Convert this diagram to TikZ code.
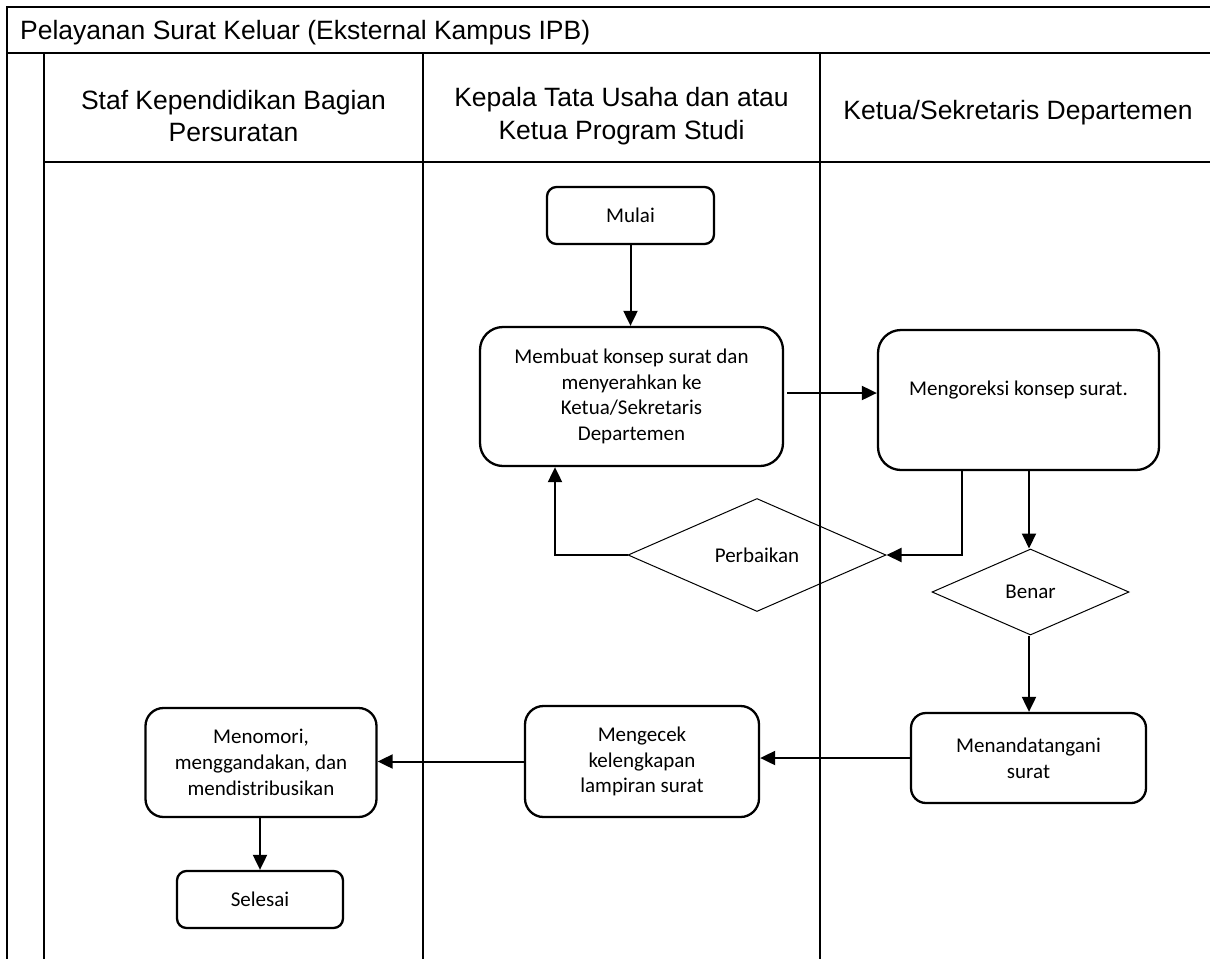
\documentclass[tikz,border=0pt]{standalone}
\usepackage{fontspec}
\setmainfont{Liberation Sans}
\newfontfamily\boxfont{Carlito}
\usetikzlibrary{shapes.geometric,arrows.meta}
\tikzset{
  grid/.style={line width=1.8pt},
  headtext/.style={font=\fontsize{26.5}{32.5}\selectfont, align=center, inner sep=0pt},
  procbox/.style={draw, line width=2.3pt, align=center, inner sep=0pt,
    font=\boxfont\fontsize{21}{25.7}\selectfont},
  decision/.style={draw, diamond, line width=1pt, inner sep=0pt,
    font=\boxfont\fontsize{21}{25.7}\selectfont},
  conn/.style={line width=2pt, -{Triangle[length=15pt,width=14pt]}},
  plain/.style={line width=2pt}
}
\begin{document}
\begin{tikzpicture}[x=1pt,y=-1pt]
\useasboundingbox (0,0) rectangle (1210,959);
% frame and lanes
\draw[grid] (1210,7) -- (7,7) -- (7,959);
\draw[grid] (7,53) -- (1210,53);
\draw[grid] (44,53) -- (44,959);
\draw[grid] (44,162) -- (1210,162);
\draw[grid] (423,53) -- (423,959);
\draw[grid] (820,53) -- (820,959);
% title and headings
\node[headtext, anchor=base west] (title) at (20,39) {Pelayanan Surat Keluar (Eksternal Kampus IPB)};
\node[headtext] (h1) at (233.5,116) {Staf Kependidikan Bagian\\Persuratan};
\node[headtext] (h2) at (621.5,116) {Kepala Tata Usaha dan atau\\Ketua Program Studi};
\node[headtext] (h3) at (1018,113) {Ketua/Sekretaris Departemen};
% process nodes
\node[procbox, rounded corners=9.5pt, minimum width=167pt, minimum height=57pt] (mulai) at (630.5,215.5) {Mulai};
\node[procbox, rounded corners=23pt, minimum width=303pt, minimum height=139pt] (membuat) at (631.5,396.5)
  {Membuat konsep surat dan\\menyerahkan ke\\Ketua/Sekretaris\\Departemen};
\node[procbox, rounded corners=23pt, minimum width=281pt, minimum height=140pt,
  label={[yshift=10pt, font=\boxfont\fontsize{21}{25.7}\selectfont]center:Mengoreksi konsep surat.}] (koreksi) at (1018.5,400) {};
\node[decision, minimum width=258pt, minimum height=113pt] (perbaikan) at (757,555) {Perbaikan};
\node[decision, minimum width=197pt, minimum height=86pt] (benar) at (1030.5,592) {Benar};
\node[procbox, rounded corners=15pt, minimum width=235pt, minimum height=90pt] (tanda) at (1028.5,758)
  {Menandatangani\\surat};
\node[procbox, rounded corners=18.5pt, minimum width=234pt, minimum height=111pt] (cek) at (642,761.5)
  {Mengecek\\kelengkapan\\lampiran surat};
\node[procbox, rounded corners=18pt, minimum width=231pt, minimum height=109pt] (nomor) at (261,762.5)
  {Menomori,\\menggandakan, dan\\mendistribusikan};
\node[procbox, rounded corners=9.5pt, minimum width=166pt, minimum height=57pt] (selesai) at (260,899.5) {Selesai};
% helper coordinates
\coordinate (a1) at (787,393);
\coordinate (k1) at (962,0);
\coordinate (p1) at (555,0);
\coordinate (b1) at (1029,0);
% connectors
\draw[conn] (mulai.south) -- (mulai.south |- membuat.north);
\draw[conn] (a1) -- (a1 -| koreksi.west);
\draw[conn] (k1 |- koreksi.south) |- (perbaikan.east);
\draw[conn] (b1 |- koreksi.south) -- (b1 |- benar.north);
\draw[conn] (perbaikan.west) -| (p1 |- membuat.south);
\draw[conn] (b1 |- benar.south) -- (b1 |- tanda.north);
\draw[conn] (tanda.west) -- (tanda.west -| cek.east);
\draw[conn] (cek.west) -- (cek.west -| nomor.east);
\draw[conn] (nomor.south -| selesai.north) -- (selesai.north);
\end{tikzpicture}
\end{document}
